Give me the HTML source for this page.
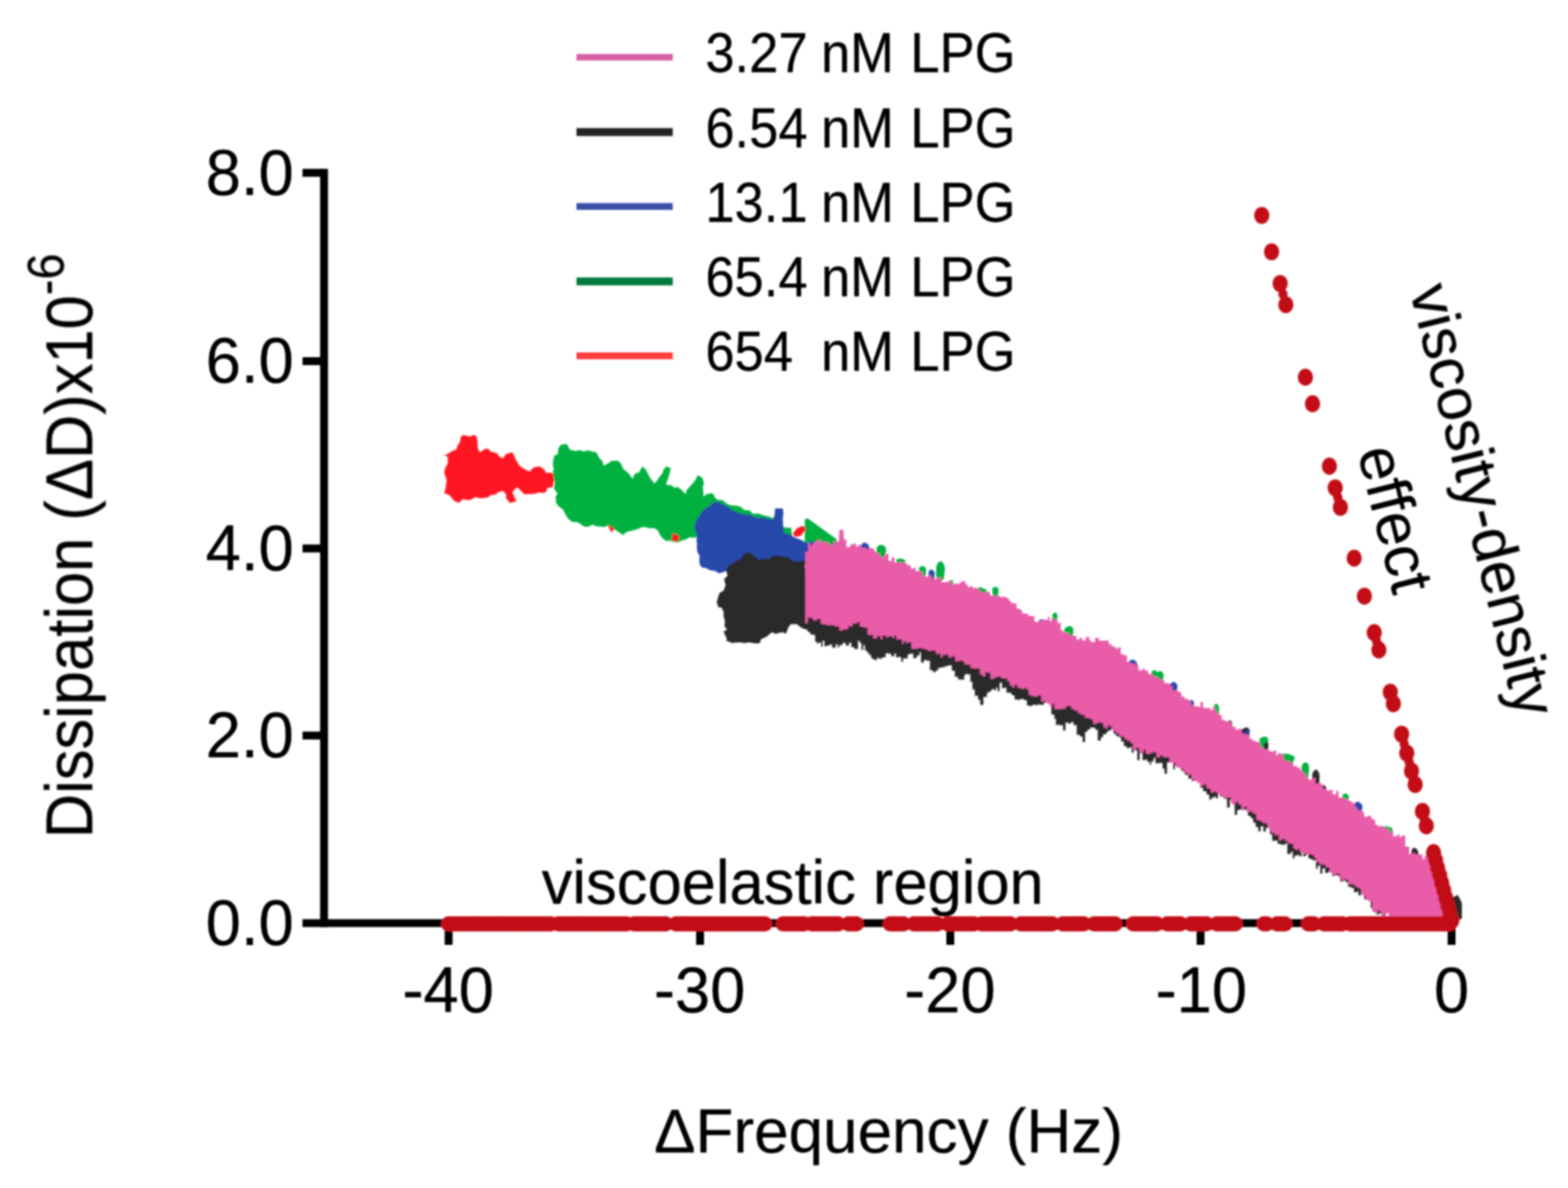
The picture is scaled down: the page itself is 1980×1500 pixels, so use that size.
<!DOCTYPE html>
<html lang="en">
<head>
<meta charset="utf-8">
<title>Dissipation vs Frequency</title>
<style>
html,body{margin:0;padding:0;background:#fff;}
body{width:1980px;height:1500px;overflow:hidden;}
svg{display:block;}
text{font-family:"Liberation Sans", sans-serif;fill:#000;stroke:#000;stroke-width:0.35px;}
</style>
</head>
<body>
<svg width="1980" height="1500" viewBox="0 0 1980 1500">
<defs><filter id="soft" x="0" y="0" width="1980" height="1500" filterUnits="userSpaceOnUse"><feGaussianBlur stdDeviation="1.3"/></filter></defs>
<rect width="1980" height="1500" fill="#fff"/>
<g filter="url(#soft)">
<g id="axes">
<rect x="404.2" y="213.2" width="10" height="957.3" fill="#000"/>
<rect x="382" y="1160.6" width="1456" height="9.9" fill="#000"/>
<rect x="382" y="213.2" width="26" height="10" fill="#000"/>
<rect x="382" y="451" width="26" height="10" fill="#000"/>
<rect x="382" y="687.5" width="26" height="10" fill="#000"/>
<rect x="382" y="923.7" width="26" height="10" fill="#000"/>
<rect x="561.5" y="1165" width="10" height="28" fill="#000"/>
<rect x="879" y="1165" width="10" height="28" fill="#000"/>
<rect x="1195" y="1165" width="10" height="28" fill="#000"/>
<rect x="1511" y="1165" width="10" height="28" fill="#000"/>
<rect x="1828" y="1165" width="10" height="28" fill="#000"/>
</g>
<g id="legend">
<rect x="728" y="68.2" width="121.5" height="8.2" fill="#d65fa5"/>
<rect x="728" y="161.7" width="121.5" height="10" fill="#222"/>
<rect x="728" y="256.4" width="121.5" height="8.6" fill="#3a4fa8"/>
<rect x="728" y="350.3" width="121.5" height="10" fill="#007a3d"/>
<rect x="728" y="445.0" width="121.5" height="8.6" fill="#ff3b3b"/>
</g>
<g id="series">
<polygon points="561.0,574.0 564.2,573.7 572.3,568.8 576.0,568.0 578.0,562.3 580.7,558.4 582.0,551.5 585.1,549.2 593.6,551.2 598.3,549.1 602.0,551.5 603.1,559.1 603.4,566.6 606.0,571.0 613.4,566.6 617.0,566.7 619.2,569.9 628.1,572.2 629.1,575.4 635.0,578.8 638.7,573.6 647.0,571.0 649.7,576.6 651.7,581.0 656.0,588.0 660.9,591.6 668.5,595.5 674.2,590.0 682.0,589.0 687.5,593.3 689.7,597.0 696.5,597.0 702.0,600.0 699.0,609.0 698.3,614.7 691.0,616.2 689.7,621.0 685.2,622.6 680.7,621.8 674.7,623.6 666.6,623.8 662.0,624.0 659.3,621.2 653.0,615.0 647.0,621.0 649.5,627.4 652.0,633.0 644.0,635.0 638.8,628.7 639.4,624.4 635.0,619.7 628.6,621.8 626.4,624.2 620.0,624.9 615.8,628.3 611.0,628.8 605.9,628.9 600.5,627.7 593.2,631.6 592.5,631.6 584.4,630.2 579.7,634.7 574.5,633.0 571.3,629.8 567.2,624.8 561.0,622.7 562.1,619.3 563.4,611.4 564.0,606.0 561.0,597.0 562.1,591.2 565.5,585.0 565.4,577.1" fill="#ff1520" />
<polygon points="700.0,575.8 704.5,572.9 705.0,566.0 708.3,561.5 715.5,560.6 720.0,568.0 727.0,569.5 731.7,568.2 737.0,570.0 742.4,568.5 747.2,570.0 753.0,571.0 757.0,578.8 761.0,582.5 762.0,588.0 768.0,584.9 772.4,581.8 780.6,581.8 784.1,585.5 787.4,592.6 791.6,595.7 794.0,597.9 798.8,604.5 802.1,597.7 807.0,596.4 811.0,589.0 814.8,591.9 818.7,598.9 821.0,603.7 824.2,607.6 826.0,610.6 828.4,608.4 834.0,600.5 836.1,598.6 837.8,593.5 841.0,589.0 847.0,591.0 845.5,598.1 844.0,603.0 841.9,608.4 841.0,612.0 847.8,612.8 851.3,615.8 856.0,615.0 861.7,619.4 865.5,624.0 867.3,618.4 872.4,612.9 876.4,608.6 879.4,604.0 880.6,600.0 886.7,603.0 889.0,609.9 887.4,615.1 888.3,621.4 888.0,627.0 893.2,623.6 900.0,622.7 903.1,628.8 906.0,631.0 912.2,631.5 918.7,636.7 923.0,638.0 930.5,638.6 935.4,640.1 940.0,644.0 946.7,644.5 950.8,648.7 958.0,648.5 963.3,650.6 972.0,652.5 978.9,655.2 981.4,661.8 988.0,664.0 990.0,666.0 999.0,666.5 999.7,672.7 1001.0,677.0 1002.6,680.7 1006.9,686.4 1012.0,690.0 1006.2,695.3 1001.9,697.7 1000.0,700.0 992.9,698.9 990.0,700.0 986.3,697.5 978.4,698.9 974.2,695.1 971.7,694.6 962.4,694.5 959.9,695.3 952.5,692.5 947.1,692.1 945.2,692.4 940.7,691.5 935.4,690.3 928.6,687.2 924.3,686.7 916.7,686.3 915.0,683.9 908.6,684.1 903.2,682.1 900.1,681.6 893.4,681.3 885.7,681.0 881.1,677.8 877.6,678.8 870.3,678.4 865.4,681.5 862.0,682.0 856.8,684.4 853.4,684.7 845.1,682.5 841.0,683.0 836.2,679.3 834.0,676.2 830.7,669.7 826.0,666.7 820.4,667.1 813.3,665.3 809.8,666.0 805.0,668.0 799.9,669.5 791.0,671.8 786.7,675.8 781.0,671.5 777.7,669.5 772.2,667.3 768.5,663.6 762.2,665.6 760.4,665.1 753.0,664.4 748.5,662.6 742.7,664.9 738.0,665.0 731.3,660.6 728.8,659.2 722.3,659.0 717.0,654.5 713.5,648.4 711.1,643.6 705.0,639.0 702.1,634.3 701.6,627.1 704.0,623.3 699.5,616.8 700.4,611.4 700.0,606.0 698.7,601.4 698.1,595.0 699.4,592.8 698.1,587.0 698.6,581.1" fill="#00b140" />
<polygon points="1016.2,657.0 1017.5,654.6 1021.0,655.2 1057.0,681.2 1054.0,688.0 1040.0,696.0 1016.2,694.0" fill="#00b140" />
<polygon points="850.0,673.0 858.0,677.0 856.0,684.0 848.0,682.0" fill="#ff1520" />
<polygon points="767.0,662.0 776.0,668.0 772.0,672.0" fill="#ff1520" />
<polygon points="877.6,660.6 879.8,655.7 883.3,650.9 886.7,645.5 891.6,641.0 894.2,640.3 899.5,635.3 904.8,633.0 910.9,635.4 915.0,637.9 918.9,639.4 923.0,643.0 929.1,646.3 934.4,648.1 940.0,649.5 946.5,649.6 952.8,652.8 958.0,654.0 963.4,653.2 971.2,655.2 976.0,656.0 978.1,650.2 978.8,642.0 988.5,642.0 989.3,649.1 988.4,654.5 988.7,660.6 989.0,665.0 990.0,673.0 996.5,674.0 1000.6,677.6 1004.8,679.1 1012.9,682.2 1016.8,684.8 1020.0,686.0 1021.2,690.6 1021.6,696.0 1021.9,701.9 1023.5,708.1 1024.0,712.0 1018.9,713.4 1013.8,713.6 1007.5,710.9 1002.5,713.5 997.0,712.2 990.0,712.0 985.5,711.7 980.6,713.5 973.7,712.5 970.3,716.1 962.6,716.2 958.4,714.7 952.8,717.4 949.5,715.7 943.4,716.3 938.6,717.9 933.9,720.6 927.4,721.3 921.6,719.0 917.0,721.0 908.0,724.0 903.0,720.7 896.4,720.1 892.4,717.4 886.7,716.7 883.7,713.0 883.1,708.3 883.4,701.5 880.6,697.0 880.0,691.9 880.2,686.9 879.5,681.8 880.3,676.2 878.2,671.7 877.2,665.2" fill="#2648aa" />
<polygon points="1001.5,673.0 1007.0,666.5 1015.0,663.8 1017.6,669.0 1011.0,676.5 1003.5,678.0" fill="#ff1520" />
<polygon points="944.0,697.0 947.6,698.5 953.5,702.3 959.0,707.6 962.1,705.2 971.8,705.4 975.0,702.0 982.3,701.2 987.0,702.2 992.7,704.0 995.9,703.2 1000.9,708.6 1009.0,709.2 1013.7,707.2 1017.0,710.0 1016.3,715.8 1018.8,722.1 1019.9,723.2 1018.8,731.4 1018.6,733.9 1018.7,738.6 1021.4,747.8 1019.7,750.0 1021.9,756.5 1022.1,763.1 1020.5,765.9 1021.3,771.1 1019.3,775.6 1023.0,779.4 1019.3,787.5 1022.0,792.0 1020.0,795.0 1013.6,793.4 1009.3,790.7 1006.7,788.2 998.8,788.0 995.3,792.5 992.7,800.0 987.3,798.3 979.8,800.3 974.5,798.5 969.8,802.2 969.1,803.2 960.9,807.2 959.4,812.0 954.6,812.6 945.8,811.1 941.0,812.0 933.3,811.0 926.6,811.5 925.1,812.1 917.0,809.0 917.8,806.2 913.6,797.5 918.1,794.9 914.8,790.6 915.5,784.7 913.4,776.3 914.0,772.7 910.7,766.8 907.4,767.0 905.0,760.6 907.1,753.0 908.6,748.8 914.0,745.5 916.2,738.7 914.4,731.2 918.8,726.7 917.0,721.0 919.3,715.3 922.4,712.4 929.5,708.9 930.0,707.2 935.0,706.4 938.2,700.6" fill="#2b2b2b" />
<polygon points="1017.0,775.0 1020.0,766.4 1020.0,766.4 1023.1,767.0 1023.1,767.0 1025.4,767.5 1025.4,767.5 1029.3,768.3 1029.3,768.3 1031.4,768.7 1031.4,768.7 1033.3,769.1 1033.3,769.1 1036.8,769.8 1036.8,769.8 1038.7,770.2 1038.7,770.2 1041.1,770.7 1041.1,770.7 1044.1,771.6 1044.1,771.6 1047.7,773.0 1047.7,773.0 1050.7,774.2 1050.7,774.2 1055.2,776.0 1055.2,776.0 1057.8,777.1 1057.8,777.1 1059.8,777.9 1059.8,777.9 1063.9,779.6 1063.9,779.6 1068.0,778.9 1068.0,778.9 1072.2,777.2 1072.2,777.2 1075.1,776.1 1075.1,776.1 1079.0,774.7 1079.0,774.7 1083.4,773.0 1083.4,773.0 1085.5,774.6 1085.5,774.6 1087.8,776.4 1087.8,776.4 1090.1,778.3 1090.1,778.3 1092.2,779.9 1092.2,779.9 1094.7,781.9 1094.7,781.9 1097.4,783.9 1097.4,783.9 1100.2,786.2 1100.2,786.2 1102.3,787.8 1102.3,787.8 1104.8,789.0 1104.8,789.0 1107.4,789.0 1107.4,789.0 1109.8,789.0 1109.8,789.0 1112.9,789.0 1112.9,789.0 1116.2,789.0 1116.2,789.0 1118.4,789.0 1118.4,789.0 1120.9,789.0 1120.9,789.0 1125.3,789.0 1125.3,789.0 1129.4,789.3 1129.4,789.3 1131.5,790.4 1131.5,790.4 1134.0,791.6 1134.0,791.6 1138.0,793.6 1138.0,793.6 1140.3,794.8 1140.3,794.8 1143.6,796.4 1143.6,796.4 1146.1,797.7 1146.1,797.7 1148.0,798.7 1148.0,798.7 1149.9,799.6 1149.9,799.6 1153.3,801.3 1153.3,801.3 1157.5,803.1 1157.5,803.1 1161.1,804.2 1161.1,804.2 1163.0,804.8 1163.0,804.8 1166.7,805.9 1166.7,805.9 1169.8,806.9 1169.8,806.9 1174.3,808.2 1174.3,808.2 1178.1,809.4 1178.1,809.4 1181.8,810.4 1181.8,810.4 1184.6,811.2 1184.6,811.2 1188.7,812.4 1188.7,812.4 1192.9,813.6 1192.9,813.6 1195.7,814.5 1195.7,814.5 1197.7,815.0 1197.7,815.0 1201.9,816.3 1201.9,816.3 1205.7,817.4 1205.7,817.4 1209.7,818.7 1209.7,818.7 1211.6,819.2 1211.6,819.2 1214.0,820.0 1214.0,820.0 1217.5,821.0 1217.5,821.0 1219.3,821.6 1219.3,821.6 1221.7,822.3 1221.7,822.3 1225.3,823.9 1225.3,823.9 1227.9,826.0 1227.9,826.0 1230.9,828.2 1230.9,828.2 1235.1,831.3 1235.1,831.3 1237.7,833.3 1237.7,833.3 1241.8,835.5 1241.8,835.5 1246.2,836.6 1246.2,836.6 1249.2,837.4 1249.2,837.4 1252.1,838.2 1252.1,838.2 1254.7,838.9 1254.7,838.9 1257.8,839.7 1257.8,839.7 1259.7,840.2 1259.7,840.2 1262.3,840.9 1262.3,840.9 1265.3,842.3 1265.3,842.3 1267.8,843.5 1267.8,843.5 1270.8,845.0 1270.8,845.0 1274.8,847.0 1274.8,847.0 1277.1,848.2 1277.1,848.2 1278.9,849.1 1278.9,849.1 1281.2,850.3 1281.2,850.3 1284.9,852.1 1284.9,852.1 1288.7,854.0 1288.7,854.0 1293.0,856.1 1293.0,856.1 1296.7,858.0 1296.7,858.0 1300.2,859.7 1300.2,859.7 1303.6,861.4 1303.6,861.4 1307.9,863.6 1307.9,863.6 1310.3,865.0 1310.3,865.0 1313.8,867.1 1313.8,867.1 1318.0,869.6 1318.0,869.6 1321.3,871.6 1321.3,871.6 1325.5,874.1 1325.5,874.1 1327.6,875.4 1327.6,875.4 1331.4,877.3 1331.4,877.3 1333.4,877.5 1333.4,877.5 1336.1,877.8 1336.1,877.8 1338.3,878.0 1338.3,878.0 1342.4,878.4 1342.4,878.4 1345.5,878.7 1345.5,878.7 1348.7,879.0 1348.7,879.0 1352.3,879.4 1352.3,879.4 1355.6,880.8 1355.6,880.8 1359.6,883.3 1359.6,883.3 1363.7,885.7 1363.7,885.7 1367.1,887.7 1367.1,887.7 1370.2,889.6 1370.2,889.6 1373.4,891.5 1373.4,891.5 1376.8,893.3 1376.8,893.3 1378.7,894.1 1378.7,894.1 1383.1,895.8 1383.1,895.8 1386.2,897.1 1386.2,897.1 1390.2,898.7 1390.2,898.7 1392.9,899.7 1392.9,899.7 1397.2,901.4 1397.2,901.4 1399.0,902.3 1399.0,902.3 1402.7,904.5 1402.7,904.5 1406.1,906.6 1406.1,906.6 1408.3,907.8 1408.3,907.8 1410.6,909.3 1410.6,909.3 1413.4,910.9 1413.4,910.9 1415.7,912.3 1415.7,912.3 1419.2,914.4 1419.2,914.4 1422.6,917.3 1422.6,917.3 1426.4,921.7 1426.4,921.7 1429.1,924.8 1429.1,924.8 1431.5,927.6 1431.5,927.6 1433.6,930.1 1433.6,930.1 1436.1,931.9 1436.1,931.9 1439.1,932.7 1439.1,932.7 1442.7,933.6 1442.7,933.6 1446.4,934.5 1446.4,934.5 1448.5,935.1 1448.5,935.1 1451.6,935.9 1451.6,935.9 1453.6,936.4 1453.6,936.4 1456.8,937.2 1456.8,937.2 1459.1,937.8 1459.1,937.8 1463.6,939.6 1463.6,939.6 1468.0,941.5 1468.0,941.5 1470.6,942.7 1470.6,942.7 1473.6,944.0 1473.6,944.0 1477.7,945.8 1477.7,945.8 1481.5,947.5 1481.5,947.5 1483.7,948.8 1483.7,948.8 1487.7,952.0 1487.7,952.0 1491.2,954.8 1491.2,954.8 1494.4,957.3 1494.4,957.3 1496.8,959.3 1496.8,959.3 1500.7,962.4 1500.7,962.4 1505.0,965.7 1505.0,965.7 1508.8,968.5 1508.8,968.5 1512.6,971.1 1512.6,971.1 1515.7,973.3 1515.7,973.3 1519.2,975.8 1519.2,975.8 1523.5,978.9 1523.5,978.9 1527.1,981.4 1527.1,981.4 1530.0,983.0 1530.0,983.0 1533.7,984.9 1533.7,984.9 1535.5,985.8 1535.5,985.8 1538.0,987.1 1538.0,987.1 1540.8,988.5 1540.8,988.5 1545.1,990.6 1545.1,990.6 1549.5,992.8 1549.5,992.8 1553.0,994.8 1553.0,994.8 1556.9,997.1 1556.9,997.1 1559.1,998.5 1559.1,998.5 1562.2,1000.4 1562.2,1000.4 1565.2,1002.1 1565.2,1002.1 1568.0,1003.8 1568.0,1003.8 1571.3,1005.8 1571.3,1005.8 1573.9,1007.4 1573.9,1007.4 1575.8,1009.0 1575.8,1009.0 1578.6,1011.2 1578.6,1011.2 1580.6,1012.8 1580.6,1012.8 1582.6,1014.3 1582.6,1014.3 1585.7,1016.8 1585.7,1016.8 1588.9,1019.3 1588.9,1019.3 1591.9,1021.8 1591.9,1021.8 1595.4,1024.5 1595.4,1024.5 1598.4,1027.2 1598.4,1027.2 1600.5,1029.1 1600.5,1029.1 1603.6,1031.9 1603.6,1031.9 1606.5,1034.6 1606.5,1034.6 1611.0,1038.7 1611.0,1038.7 1613.4,1040.9 1613.4,1040.9 1617.3,1044.5 1617.3,1044.5 1619.9,1046.4 1619.9,1046.4 1623.3,1048.4 1623.3,1048.4 1625.6,1049.7 1625.6,1049.7 1629.9,1052.2 1629.9,1052.2 1632.4,1053.7 1632.4,1053.7 1634.5,1055.0 1634.5,1055.0 1638.1,1057.1 1638.1,1057.1 1640.9,1058.8 1640.9,1058.8 1643.6,1060.2 1643.6,1060.2 1645.6,1061.2 1645.6,1061.2 1649.1,1063.0 1649.1,1063.0 1652.1,1064.5 1652.1,1064.5 1654.9,1065.9 1654.9,1065.9 1657.5,1067.2 1657.5,1067.2 1661.8,1069.4 1661.8,1069.4 1663.9,1070.4 1663.9,1070.4 1667.2,1073.2 1667.2,1073.2 1669.8,1075.4 1669.8,1075.4 1673.4,1078.4 1673.4,1078.4 1677.2,1081.6 1677.2,1081.6 1679.3,1083.4 1679.3,1083.4 1682.1,1085.5 1682.1,1085.5 1685.5,1087.9 1685.5,1087.9 1689.7,1090.9 1689.7,1090.9 1692.4,1092.7 1692.4,1092.7 1696.7,1095.8 1696.7,1095.8 1699.5,1097.7 1699.5,1097.7 1702.3,1099.7 1702.3,1099.7 1705.7,1102.1 1705.7,1102.1 1709.7,1105.0 1709.7,1105.0 1713.6,1107.8 1713.6,1107.8 1715.4,1109.1 1715.4,1109.1 1718.8,1111.5 1718.8,1111.5 1722.7,1114.4 1722.7,1114.4 1726.7,1119.2 1726.7,1119.2 1730.9,1127.3 1730.9,1127.3 1733.1,1131.4 1733.1,1131.4 1735.5,1134.5 1735.5,1134.5 1738.7,1135.9 1738.7,1135.9 1741.5,1137.2 1741.5,1137.2 1744.6,1138.6 1744.6,1138.6 1748.3,1140.2 1748.3,1140.2 1750.0,1141.0 1750.0,1156.8 1748.3,1156.8 1748.3,1157.4 1744.6,1157.4 1744.6,1153.1 1741.5,1153.1 1741.5,1154.9 1738.7,1154.9 1738.7,1152.1 1735.5,1152.1 1735.5,1146.8 1733.1,1146.8 1733.1,1146.4 1730.9,1146.4 1730.9,1135.8 1726.7,1135.8 1726.7,1135.8 1722.7,1135.8 1722.7,1126.2 1718.8,1126.2 1718.8,1130.5 1715.4,1130.5 1715.4,1125.6 1713.6,1125.6 1713.6,1126.4 1709.7,1126.4 1709.7,1120.9 1705.7,1120.9 1705.7,1119.5 1702.3,1119.5 1702.3,1113.9 1699.5,1113.9 1699.5,1111.7 1696.7,1111.7 1696.7,1113.1 1692.4,1113.1 1692.4,1106.5 1689.7,1106.5 1689.7,1105.0 1685.5,1105.0 1685.5,1106.0 1682.1,1106.0 1682.1,1099.4 1679.3,1099.4 1679.3,1100.5 1677.2,1100.5 1677.2,1102.2 1673.4,1102.2 1673.4,1096.6 1669.8,1096.6 1669.8,1103.1 1667.2,1103.1 1667.2,1092.9 1663.9,1092.9 1663.9,1097.1 1661.8,1097.1 1661.8,1086.3 1657.5,1086.3 1657.5,1084.8 1654.9,1084.8 1654.9,1083.7 1652.1,1083.7 1652.1,1079.0 1649.1,1079.0 1649.1,1081.0 1645.6,1081.0 1645.6,1076.5 1643.6,1076.5 1643.6,1081.2 1640.9,1081.2 1640.9,1079.5 1638.1,1079.5 1638.1,1080.2 1634.5,1080.2 1634.5,1083.9 1632.4,1083.9 1632.4,1075.4 1629.9,1075.4 1629.9,1078.2 1625.6,1078.2 1625.6,1064.8 1623.3,1064.8 1623.3,1066.6 1619.9,1066.6 1619.9,1066.4 1617.3,1066.4 1617.3,1065.5 1613.4,1065.5 1613.4,1061.3 1611.0,1061.3 1611.0,1061.4 1606.5,1061.4 1606.5,1053.4 1603.6,1053.4 1603.6,1044.4 1600.5,1044.4 1600.5,1045.6 1598.4,1045.6 1598.4,1050.0 1595.4,1050.0 1595.4,1043.2 1591.9,1043.2 1591.9,1049.4 1588.9,1049.4 1588.9,1044.2 1585.7,1044.2 1585.7,1038.8 1582.6,1038.8 1582.6,1033.7 1580.6,1033.7 1580.6,1031.4 1578.6,1031.4 1578.6,1029.9 1575.8,1029.9 1575.8,1023.8 1573.9,1023.8 1573.9,1022.0 1571.3,1022.0 1571.3,1023.0 1568.0,1023.0 1568.0,1022.0 1565.2,1022.0 1565.2,1022.8 1562.2,1022.8 1562.2,1028.8 1559.1,1028.8 1559.1,1016.4 1556.9,1016.4 1556.9,1010.0 1553.0,1010.0 1553.0,1019.4 1549.5,1019.4 1549.5,1008.5 1545.1,1008.5 1545.1,1005.4 1540.8,1005.4 1540.8,1000.3 1538.0,1000.3 1538.0,1007.9 1535.5,1007.9 1535.5,1005.2 1533.7,1005.2 1533.7,1006.9 1530.0,1006.9 1530.0,1009.5 1527.1,1009.5 1527.1,1003.2 1523.5,1003.2 1523.5,998.9 1519.2,998.9 1519.2,994.6 1515.7,994.6 1515.7,987.2 1512.6,987.2 1512.6,984.6 1508.8,984.6 1508.8,986.1 1505.0,986.1 1505.0,983.3 1500.7,983.3 1500.7,978.8 1496.8,978.8 1496.8,975.7 1494.4,975.7 1494.4,972.8 1491.2,972.8 1491.2,965.1 1487.7,965.1 1487.7,966.0 1483.7,966.0 1483.7,971.2 1481.5,971.2 1481.5,961.8 1477.7,961.8 1477.7,962.6 1473.6,962.6 1473.6,976.9 1470.6,976.9 1470.6,970.4 1468.0,970.4 1468.0,963.3 1463.6,963.3 1463.6,963.8 1459.1,963.8 1459.1,956.7 1456.8,956.7 1456.8,961.3 1453.6,961.3 1453.6,965.5 1451.6,965.5 1451.6,961.8 1448.5,961.8 1448.5,958.7 1446.4,958.7 1446.4,959.7 1442.7,959.7 1442.7,950.9 1439.1,950.9 1439.1,959.8 1436.1,959.8 1436.1,947.4 1433.6,947.4 1433.6,946.9 1431.5,946.9 1431.5,950.5 1429.1,950.5 1429.1,943.6 1426.4,943.6 1426.4,944.6 1422.6,944.6 1422.6,942.0 1419.2,942.0 1419.2,936.2 1415.7,936.2 1415.7,931.0 1413.4,931.0 1413.4,929.9 1410.6,929.9 1410.6,928.2 1408.3,928.2 1408.3,925.9 1406.1,925.9 1406.1,920.2 1402.7,920.2 1402.7,922.5 1399.0,922.5 1399.0,924.3 1397.2,924.3 1397.2,926.9 1392.9,926.9 1392.9,930.8 1390.2,930.8 1390.2,935.0 1386.2,935.0 1386.2,921.5 1383.1,921.5 1383.1,918.8 1378.7,918.8 1378.7,918.2 1376.8,918.2 1376.8,920.9 1373.4,920.9 1373.4,924.0 1370.2,924.0 1370.2,937.0 1367.1,937.0 1367.1,929.9 1363.7,929.9 1363.7,927.7 1359.6,927.7 1359.6,915.5 1355.6,915.5 1355.6,911.7 1352.3,911.7 1352.3,913.5 1348.7,913.5 1348.7,912.2 1345.5,912.2 1345.5,922.2 1342.4,922.2 1342.4,915.8 1338.3,915.8 1338.3,914.9 1336.1,914.9 1336.1,915.5 1333.4,915.5 1333.4,907.5 1331.4,907.5 1331.4,902.3 1327.6,902.3 1327.6,884.5 1325.5,884.5 1325.5,886.5 1321.3,886.5 1321.3,887.3 1318.0,887.3 1318.0,889.9 1313.8,889.9 1313.8,889.4 1310.3,889.4 1310.3,890.4 1307.9,890.4 1307.9,889.7 1303.6,889.7 1303.6,891.6 1300.2,891.6 1300.2,890.7 1296.7,890.7 1296.7,884.0 1293.0,884.0 1293.0,882.5 1288.7,882.5 1288.7,883.4 1284.9,883.4 1284.9,883.2 1281.2,883.2 1281.2,878.0 1278.9,878.0 1278.9,877.1 1277.1,877.1 1277.1,874.8 1274.8,874.8 1274.8,874.6 1270.8,874.6 1270.8,868.3 1267.8,868.3 1267.8,869.0 1265.3,869.0 1265.3,862.1 1262.3,862.1 1262.3,872.7 1259.7,872.7 1259.7,867.9 1257.8,867.9 1257.8,871.3 1254.7,871.3 1254.7,870.0 1252.1,870.0 1252.1,872.7 1249.2,872.7 1249.2,874.6 1246.2,874.6 1246.2,880.1 1241.8,880.1 1241.8,890.1 1237.7,890.1 1237.7,883.6 1235.1,883.6 1235.1,878.5 1230.9,878.5 1230.9,870.5 1227.9,870.5 1227.9,860.8 1225.3,860.8 1225.3,851.4 1221.7,851.4 1221.7,850.7 1219.3,850.7 1219.3,852.6 1217.5,852.6 1217.5,858.2 1214.0,858.2 1214.0,857.8 1211.6,857.8 1211.6,858.1 1209.7,858.1 1209.7,854.6 1205.7,854.6 1205.7,846.7 1201.9,846.7 1201.9,840.1 1197.7,840.1 1197.7,840.7 1195.7,840.7 1195.7,841.3 1192.9,841.3 1192.9,842.6 1188.7,842.6 1188.7,843.2 1184.6,843.2 1184.6,846.5 1181.8,846.5 1181.8,848.6 1178.1,848.6 1178.1,846.3 1174.3,846.3 1174.3,834.2 1169.8,834.2 1169.8,833.3 1166.7,833.3 1166.7,836.6 1163.0,836.6 1163.0,823.5 1161.1,823.5 1161.1,827.8 1157.5,827.8 1157.5,831.0 1153.3,831.0 1153.3,825.2 1149.9,825.2 1149.9,825.7 1148.0,825.7 1148.0,826.6 1146.1,826.6 1146.1,831.4 1143.6,831.4 1143.6,831.2 1140.3,831.2 1140.3,835.4 1138.0,835.4 1138.0,829.5 1134.0,829.5 1134.0,829.9 1131.5,829.9 1131.5,824.9 1129.4,824.9 1129.4,828.6 1125.3,828.6 1125.3,825.2 1120.9,825.2 1120.9,824.7 1118.4,824.7 1118.4,829.7 1116.2,829.7 1116.2,830.2 1112.9,830.2 1112.9,831.9 1109.8,831.9 1109.8,830.2 1107.4,830.2 1107.4,833.5 1104.8,833.5 1104.8,832.6 1102.3,832.6 1102.3,831.3 1100.2,831.3 1100.2,827.2 1097.4,827.2 1097.4,824.0 1094.7,824.0 1094.7,821.3 1092.2,821.3 1092.2,814.4 1090.1,814.4 1090.1,820.4 1087.8,820.4 1087.8,811.8 1085.5,811.8 1085.5,808.7 1083.4,808.7 1083.4,819.5 1079.0,819.5 1079.0,817.3 1075.1,817.3 1075.1,811.4 1072.2,811.4 1072.2,815.1 1068.0,815.1 1068.0,811.8 1063.9,811.8 1063.9,814.6 1059.8,814.6 1059.8,817.3 1057.8,817.3 1057.8,813.5 1055.2,813.5 1055.2,817.8 1050.7,817.8 1050.7,813.8 1047.7,813.8 1047.7,814.9 1044.1,814.9 1044.1,816.0 1041.1,816.0 1041.1,809.0 1038.7,809.0 1038.7,816.4 1036.8,816.4 1036.8,811.2 1033.3,811.2 1033.3,812.6 1031.4,812.6 1031.4,810.1 1029.3,810.1 1029.3,801.6 1025.4,801.6 1025.4,801.1 1023.1,801.1 1023.1,798.1 1020.0,798.1 1020.0,795.1 1017.0,795.1" fill="#2b2b2b" />
<polygon points="1832.0,1134.0 1841.0,1130.0 1846.0,1140.0 1846.0,1160.0 1834.0,1164.0" fill="#2b2b2b" />
<polygon points="1028.6,686.0 1027.7,695.0 1025.3,696.2 1022.6,695.4 1020.6,694.1 1020.3,684.9 1022.3,683.1 1025.1,683.3 1027.7,684.0" fill="#2648aa" />
<polygon points="1097.7,690.8 1096.3,701.7 1093.5,704.5 1090.0,703.0 1087.9,699.8 1087.2,688.5 1089.9,685.4 1093.3,685.2 1096.1,687.2" fill="#2648aa" />
<polygon points="1119.0,695.0 1117.0,705.9 1114.1,709.1 1109.8,708.5 1107.5,704.3 1106.8,692.4 1109.6,688.2 1114.1,688.0 1117.8,690.3" fill="#00b140" />
<polygon points="1143.1,709.0 1141.8,718.2 1139.0,720.5 1135.0,719.2 1132.6,717.3 1131.5,707.5 1134.6,705.3 1138.7,705.5 1142.2,706.6" fill="#00b140" />
<polygon points="1169.6,719.0 1168.6,729.0 1165.7,730.2 1162.5,730.4 1160.6,727.6 1160.5,717.3 1162.7,715.1 1165.8,714.7 1168.3,716.2" fill="#00b140" />
<polygon points="1180.4,723.6 1179.3,734.1 1176.7,735.6 1174.2,734.4 1172.6,732.1 1172.7,722.1 1174.1,719.5 1176.6,719.3 1178.9,720.6" fill="#2648aa" />
<polygon points="1193.2,718.0 1191.9,730.3 1188.8,734.3 1184.7,732.7 1182.1,728.1 1182.3,715.1 1184.7,710.1 1188.8,708.4 1192.0,712.5" fill="#00b140" />
<polygon points="1203.6,735.0 1203.3,743.9 1201.5,744.8 1199.4,744.8 1198.5,742.9 1197.9,733.9 1199.7,732.8 1201.5,732.0 1203.3,733.1" fill="#00b140" />
<polygon points="1241.3,745.0 1240.9,754.9 1238.2,756.2 1235.7,755.1 1233.7,753.4 1233.6,743.6 1235.8,742.0 1238.1,741.5 1240.7,742.4" fill="#00b140" />
<polygon points="1246.3,746.0 1245.0,754.9 1242.7,755.9 1240.0,755.6 1238.5,754.0 1237.8,744.9 1239.7,743.0 1242.7,743.1 1244.6,744.3" fill="#00b140" />
<polygon points="1260.9,744.0 1260.3,753.1 1257.7,753.8 1255.2,753.3 1253.6,751.9 1253.0,742.9 1254.9,741.3 1257.7,741.2 1260.2,742.0" fill="#00b140" />
<polygon points="1320.3,784.6 1319.5,793.4 1316.8,794.3 1314.0,793.7 1311.9,792.5 1311.8,783.6 1313.8,782.2 1316.7,782.0 1319.1,783.0" fill="#2648aa" />
<polygon points="1335.3,777.8 1334.8,788.0 1332.4,789.4 1329.9,789.0 1328.8,786.2 1328.9,776.4 1330.2,774.2 1332.4,773.3 1334.5,774.8" fill="#00b140" />
<polygon points="1355.5,796.0 1354.2,805.9 1351.2,808.6 1347.4,806.8 1343.6,804.9 1343.9,794.2 1346.9,791.6 1351.2,790.3 1354.8,792.6" fill="#00b140" />
<polygon points="1410.3,824.0 1410.3,836.8 1408.2,838.7 1406.0,838.8 1404.6,834.0 1405.2,821.6 1406.4,818.0 1408.1,817.3 1410.2,818.4" fill="#00b140" />
<polygon points="1436.5,840.0 1434.2,850.8 1430.9,852.7 1427.1,852.4 1423.9,849.4 1424.0,837.6 1426.7,833.8 1431.2,832.7 1434.9,835.5" fill="#2648aa" />
<polygon points="1461.9,851.4 1460.1,861.7 1458.1,863.4 1455.3,864.2 1453.6,860.5 1453.9,849.5 1455.7,846.8 1458.2,845.8 1460.4,847.7" fill="#00b140" />
<polygon points="1469.5,851.0 1468.3,860.5 1465.3,861.6 1462.3,861.0 1460.2,859.2 1460.3,849.8 1462.3,848.0 1465.3,847.2 1467.9,848.7" fill="#00b140" />
<polygon points="1487.0,865.7 1485.4,876.0 1482.4,877.6 1478.9,877.2 1477.2,874.3 1477.5,864.2 1479.3,861.9 1482.3,861.0 1485.2,862.6" fill="#2648aa" />
<polygon points="1507.7,887.0 1506.9,895.8 1504.8,897.3 1502.3,896.2 1500.3,895.0 1500.4,886.0 1502.1,884.6 1504.7,883.8 1506.8,885.2" fill="#2648aa" />
<polygon points="1539.5,896.0 1538.8,907.0 1536.8,910.9 1534.1,908.8 1532.7,905.1 1531.7,893.3 1533.9,889.7 1536.8,888.2 1538.9,891.7" fill="#00b140" />
<polygon points="1555.7,912.0 1554.7,920.4 1553.4,921.3 1551.6,921.4 1550.6,919.9 1550.4,911.1 1551.8,909.9 1553.5,909.3 1554.7,910.6" fill="#2b2b2b" />
<polygon points="1578.2,923.5 1576.5,933.4 1573.8,935.0 1570.2,935.3 1568.4,932.2 1567.9,921.6 1570.7,919.5 1573.9,918.2 1577.3,919.9" fill="#2b2b2b" />
<polygon points="1578.1,925.0 1577.1,933.8 1575.5,935.1 1573.3,934.9 1571.9,933.1 1572.2,924.0 1573.5,922.5 1575.5,922.4 1577.5,922.9" fill="#2648aa" />
<polygon points="1601.4,934.8 1600.2,944.7 1596.9,946.0 1593.3,945.7 1590.6,943.5 1590.4,933.1 1593.3,930.9 1597.0,930.0 1601.0,931.3" fill="#00b140" />
<polygon points="1601.6,941.0 1601.0,950.3 1599.5,952.0 1597.3,951.9 1595.8,949.5 1596.1,939.6 1597.7,938.0 1599.6,936.6 1601.6,938.0" fill="#2b2b2b" />
<polygon points="1635.3,956.0 1631.5,965.9 1624.8,967.3 1617.4,967.0 1611.8,964.7 1611.1,954.2 1617.5,952.1 1624.9,951.6 1630.9,953.3" fill="#00b140" />
<polygon points="1653.1,970.0 1651.9,982.2 1648.8,984.4 1645.5,983.8 1642.7,980.1 1643.7,967.5 1645.7,963.6 1648.8,962.6 1652.2,964.3" fill="#00b140" />
<polygon points="1666.3,979.0 1665.8,990.9 1662.6,993.8 1658.8,992.7 1656.5,988.6 1657.3,976.8 1659.1,973.0 1662.6,971.4 1665.1,974.8" fill="#2b2b2b" />
<polygon points="1674.8,995.0 1674.1,1004.9 1671.5,1006.5 1668.8,1005.3 1667.4,1003.2 1667.5,993.8 1668.8,991.7 1671.4,991.0 1673.6,992.6" fill="#2b2b2b" />
<polygon points="1703.4,1005.5 1702.2,1015.2 1699.7,1016.6 1696.8,1016.3 1695.4,1013.8 1695.1,1004.1 1697.1,1002.2 1699.7,1001.8 1701.7,1003.2" fill="#00b140" />
<polygon points="1720.5,1017.5 1719.1,1028.1 1714.9,1028.7 1710.8,1029.1 1709.1,1026.0 1708.5,1015.8 1711.2,1013.4 1715.2,1012.0 1718.5,1014.4" fill="#2648aa" />
<polygon points="1759.0,1048.5 1756.6,1058.6 1751.4,1060.1 1745.8,1059.5 1742.7,1057.0 1742.8,1047.0 1745.4,1044.1 1751.7,1043.2 1757.2,1045.1" fill="#00b140" />
<polygon points="1791.1,1076.8 1790.9,1088.2 1787.3,1089.0 1784.1,1088.9 1782.0,1085.7 1782.3,1074.9 1783.7,1070.9 1787.4,1070.5 1789.9,1073.4" fill="#2b2b2b" />
<polygon points="1807.1,1096.0 1806.8,1106.5 1804.2,1107.7 1801.6,1107.1 1800.0,1104.6 1799.9,1094.4 1801.4,1091.6 1804.2,1091.4 1806.6,1092.7" fill="#2b2b2b" />
<polygon points="1017.0,696.8 1020.5,696.8 1020.5,685.5 1023.0,685.5 1023.0,688.9 1025.8,688.9 1025.8,685.8 1029.7,685.8 1029.7,683.6 1032.2,683.6 1032.2,681.4 1037.0,681.4 1037.0,685.7 1039.3,685.7 1039.3,683.7 1042.6,683.7 1042.6,685.1 1047.4,685.1 1047.4,688.3 1052.5,688.3 1052.5,683.4 1055.8,683.4 1055.8,683.8 1059.7,683.8 1059.7,684.3 1061.9,684.3 1061.9,686.2 1065.2,686.2 1065.2,681.3 1068.7,681.3 1068.7,690.8 1073.7,690.8 1073.7,687.4 1076.8,687.4 1076.8,686.6 1080.9,686.6 1080.9,690.0 1084.1,690.0 1084.1,687.8 1087.7,687.8 1087.7,691.8 1091.0,691.8 1091.0,691.8 1094.4,691.8 1094.4,693.6 1096.7,693.6 1096.7,691.7 1100.9,691.7 1100.9,692.7 1104.0,692.7 1104.0,696.0 1106.7,696.0 1106.7,698.9 1111.6,698.9 1111.6,703.3 1114.2,703.3 1114.2,703.3 1116.8,703.3 1116.8,701.2 1118.9,701.2 1118.9,699.0 1122.0,699.0 1122.0,708.3 1125.9,708.3 1125.9,703.7 1129.5,703.7 1129.5,710.6 1133.9,710.6 1133.9,710.1 1136.7,710.1 1136.7,709.8 1140.6,709.8 1140.6,711.0 1145.4,711.0 1145.4,713.8 1150.1,713.8 1150.1,718.3 1153.7,718.3 1153.7,717.1 1156.4,717.1 1156.4,721.3 1160.6,721.3 1160.6,721.6 1165.3,721.6 1165.3,727.0 1168.7,727.0 1168.7,728.3 1172.6,728.3 1172.6,727.0 1177.0,727.0 1177.0,731.4 1181.8,731.4 1181.8,729.9 1184.9,729.9 1184.9,728.7 1188.7,728.7 1188.7,734.9 1193.5,734.9 1193.5,734.7 1198.3,734.7 1198.3,733.1 1201.5,733.1 1201.5,738.8 1204.5,738.8 1204.5,736.8 1208.2,736.8 1208.2,737.3 1211.9,737.3 1211.9,735.4 1214.7,735.4 1214.7,733.7 1218.8,733.7 1218.8,737.7 1221.8,737.7 1221.8,741.2 1225.8,741.2 1225.8,740.1 1228.0,740.1 1228.0,742.6 1230.6,742.6 1230.6,741.9 1233.3,741.9 1233.3,743.5 1235.4,743.5 1235.4,745.2 1238.1,745.2 1238.1,747.5 1242.9,747.5 1242.9,748.0 1245.4,748.0 1245.4,747.3 1250.1,747.3 1250.1,751.9 1254.7,751.9 1254.7,752.2 1258.4,752.2 1258.4,752.3 1262.5,752.3 1262.5,753.7 1266.2,753.7 1266.2,753.4 1270.5,753.4 1270.5,755.2 1273.7,755.2 1273.7,758.2 1276.4,758.2 1276.4,761.1 1278.6,761.1 1278.6,761.7 1283.5,761.7 1283.5,768.4 1288.2,768.4 1288.2,770.3 1290.6,770.3 1290.6,774.4 1294.5,774.4 1294.5,775.0 1298.4,775.0 1298.4,777.6 1301.6,777.6 1301.6,778.1 1306.2,778.1 1306.2,785.1 1309.0,785.1 1309.0,785.5 1311.2,785.5 1311.2,784.1 1315.7,784.1 1315.7,782.8 1318.7,782.8 1318.7,782.4 1323.3,782.4 1323.3,778.7 1325.4,778.7 1325.4,784.3 1328.0,784.3 1328.0,780.3 1330.6,780.3 1330.6,782.2 1335.3,782.2 1335.3,786.5 1339.4,786.5 1339.4,796.2 1343.0,796.2 1343.0,799.0 1346.6,799.0 1346.6,798.9 1350.6,798.9 1350.6,802.5 1354.2,802.5 1354.2,802.8 1359.1,802.8 1359.1,807.6 1363.3,807.6 1363.3,805.4 1366.6,805.4 1366.6,808.7 1370.9,808.7 1370.9,804.4 1373.2,804.4 1373.2,804.0 1375.4,804.0 1375.4,808.6 1377.8,808.6 1377.8,810.8 1382.8,810.8 1382.8,805.4 1387.7,805.4 1387.7,808.9 1392.6,808.9 1392.6,809.1 1396.9,809.1 1396.9,808.4 1400.0,808.4 1400.0,813.4 1403.8,813.4 1403.8,816.4 1408.2,816.4 1408.2,820.0 1411.2,820.0 1411.2,817.6 1415.3,817.6 1415.3,826.0 1418.8,826.0 1418.8,827.4 1423.1,827.4 1423.1,836.1 1427.8,836.1 1427.8,837.4 1430.5,837.4 1430.5,837.7 1433.6,837.7 1433.6,840.2 1437.5,840.2 1437.5,846.4 1442.5,846.4 1442.5,844.4 1445.8,844.4 1445.8,846.7 1449.8,846.7 1449.8,851.3 1453.6,851.3 1453.6,851.6 1456.6,851.6 1456.6,854.1 1459.7,854.1 1459.7,855.0 1462.2,855.0 1462.2,856.6 1465.3,856.6 1465.3,858.8 1470.2,858.8 1470.2,862.4 1474.2,862.4 1474.2,863.0 1478.2,863.0 1478.2,866.2 1480.6,866.2 1480.6,871.5 1485.7,871.5 1485.7,872.4 1489.0,872.4 1489.0,874.3 1491.8,874.3 1491.8,879.6 1495.8,879.6 1495.8,882.4 1500.8,882.4 1500.8,885.8 1504.0,885.8 1504.0,890.3 1508.2,890.3 1508.2,891.7 1511.9,891.7 1511.9,892.4 1515.9,892.4 1515.9,886.2 1519.1,886.2 1519.1,893.8 1523.5,893.8 1523.5,894.1 1528.3,894.1 1528.3,896.7 1531.7,896.7 1531.7,892.9 1535.0,892.9 1535.0,898.6 1537.9,898.6 1537.9,902.5 1542.5,902.5 1542.5,908.8 1546.4,908.8 1546.4,910.6 1549.2,910.6 1549.2,910.9 1554.0,910.9 1554.0,915.9 1556.7,915.9 1556.7,917.7 1560.4,917.7 1560.4,921.4 1564.1,921.4 1564.1,919.9 1568.0,919.9 1568.0,926.3 1572.6,926.3 1572.6,928.0 1574.7,928.0 1574.7,927.5 1578.0,927.5 1578.0,933.0 1581.6,933.0 1581.6,935.4 1586.4,935.4 1586.4,937.1 1591.0,937.1 1591.0,941.8 1593.1,941.8 1593.1,944.9 1597.1,944.9 1597.1,945.9 1600.4,945.9 1600.4,947.7 1604.0,947.7 1604.0,949.1 1608.7,949.1 1608.7,947.5 1611.6,947.5 1611.6,954.6 1613.8,954.6 1613.8,950.9 1617.7,950.9 1617.7,953.2 1621.4,953.2 1621.4,960.6 1626.0,960.6 1626.0,960.7 1629.3,960.7 1629.3,963.2 1633.1,963.2 1633.1,967.3 1637.6,967.3 1637.6,969.2 1642.0,969.2 1642.0,973.3 1644.1,973.3 1644.1,974.4 1646.4,974.4 1646.4,977.3 1649.5,977.3 1649.5,983.0 1653.1,983.0 1653.1,984.8 1656.1,984.8 1656.1,982.3 1661.0,982.3 1661.0,989.5 1665.9,989.5 1665.9,988.7 1668.5,988.7 1668.5,990.8 1670.8,990.8 1670.8,996.3 1675.3,996.3 1675.3,997.9 1679.8,997.9 1679.8,997.6 1682.8,997.6 1682.8,1003.0 1687.5,1003.0 1687.5,998.3 1690.2,998.3 1690.2,1007.0 1693.7,1007.0 1693.7,1007.0 1697.3,1007.0 1697.3,1008.7 1701.7,1008.7 1701.7,1011.1 1706.3,1011.1 1706.3,1013.4 1708.9,1013.4 1708.9,1014.2 1711.4,1014.2 1711.4,1019.5 1714.0,1019.5 1714.0,1023.2 1719.0,1023.2 1719.0,1024.7 1722.4,1024.7 1722.4,1031.3 1727.4,1031.3 1727.4,1030.0 1731.4,1030.0 1731.4,1033.8 1734.0,1033.8 1734.0,1035.2 1736.5,1035.2 1736.5,1041.5 1740.1,1041.5 1740.1,1043.6 1742.4,1043.6 1742.4,1043.1 1746.5,1043.1 1746.5,1045.5 1751.6,1045.5 1751.6,1046.4 1754.0,1046.4 1754.0,1051.7 1756.8,1051.7 1756.8,1048.8 1759.1,1048.8 1759.1,1056.1 1764.1,1056.1 1764.1,1053.9 1767.4,1053.9 1767.4,1057.2 1769.8,1057.2 1769.8,1055.1 1774.5,1055.1 1774.5,1068.9 1776.6,1068.9 1776.6,1068.9 1779.5,1068.9 1779.5,1078.2 1784.4,1078.2 1784.4,1077.1 1786.7,1077.1 1786.7,1078.7 1791.2,1078.7 1791.2,1079.0 1796.1,1079.0 1796.1,1084.7 1799.0,1084.7 1799.0,1080.7 1803.2,1080.7 1803.2,1086.0 1805.8,1086.0 1805.8,1088.4 1810.5,1088.4 1810.5,1095.3 1813.8,1095.3 1813.8,1097.4 1818.9,1097.4 1818.9,1118.9 1823.1,1118.9 1823.1,1142.0 1826.0,1142.0 1826.0,1164.4 1823.1,1164.4 1823.1,1164.9 1820.4,1164.9 1820.4,1164.1 1817.2,1164.1 1817.2,1161.1 1812.9,1161.1 1812.9,1165.6 1808.4,1165.6 1808.4,1165.5 1805.7,1165.5 1805.7,1165.4 1802.1,1165.4 1802.1,1162.5 1799.0,1162.5 1799.0,1162.3 1794.4,1162.3 1794.4,1163.4 1791.9,1163.4 1791.9,1160.6 1787.7,1160.6 1787.7,1158.1 1784.4,1158.1 1784.4,1159.2 1781.1,1159.2 1781.1,1162.6 1777.0,1162.6 1777.0,1159.1 1774.4,1159.1 1774.4,1159.8 1772.1,1159.8 1772.1,1157.3 1769.4,1157.3 1769.4,1160.8 1767.0,1160.8 1767.0,1158.8 1763.6,1158.8 1763.6,1157.8 1760.7,1157.8 1760.7,1159.7 1758.3,1159.7 1758.3,1158.4 1756.1,1158.4 1756.1,1159.6 1753.5,1159.6 1753.5,1152.9 1749.5,1152.9 1749.5,1156.9 1744.7,1156.9 1744.7,1151.2 1742.5,1151.2 1742.5,1149.3 1739.8,1149.3 1739.8,1153.3 1737.0,1153.3 1737.0,1151.0 1732.7,1151.0 1732.7,1137.9 1727.7,1137.9 1727.7,1135.8 1724.4,1135.8 1724.4,1130.6 1719.9,1130.6 1719.9,1124.3 1717.8,1124.3 1717.8,1121.0 1713.7,1121.0 1713.7,1119.3 1711.0,1119.3 1711.0,1116.8 1707.6,1116.8 1707.6,1116.6 1702.6,1116.6 1702.6,1110.7 1699.4,1110.7 1699.4,1109.7 1696.8,1109.7 1696.8,1111.9 1693.8,1111.9 1693.8,1108.5 1691.6,1108.5 1691.6,1103.1 1686.6,1103.1 1686.6,1104.6 1682.0,1104.6 1682.0,1101.9 1678.9,1101.9 1678.9,1094.9 1673.9,1094.9 1673.9,1091.8 1669.7,1091.8 1669.7,1091.3 1665.9,1091.3 1665.9,1088.1 1661.8,1088.1 1661.8,1082.9 1659.4,1082.9 1659.4,1079.4 1656.1,1079.4 1656.1,1078.3 1653.2,1078.3 1653.2,1078.9 1650.4,1078.9 1650.4,1078.0 1646.0,1078.0 1646.0,1075.9 1641.5,1075.9 1641.5,1071.8 1638.8,1071.8 1638.8,1073.2 1635.9,1073.2 1635.9,1071.2 1633.1,1071.2 1633.1,1065.2 1628.8,1065.2 1628.8,1064.5 1626.0,1064.5 1626.0,1061.7 1622.4,1061.7 1622.4,1058.9 1618.6,1058.9 1618.6,1060.9 1615.0,1060.9 1615.0,1053.7 1612.4,1053.7 1612.4,1054.7 1609.9,1054.7 1609.9,1051.7 1605.2,1051.7 1605.2,1048.2 1603.0,1048.2 1603.0,1045.7 1600.5,1045.7 1600.5,1039.2 1596.2,1039.2 1596.2,1038.8 1593.4,1038.8 1593.4,1036.3 1589.3,1036.3 1589.3,1034.9 1586.4,1034.9 1586.4,1027.4 1582.1,1027.4 1582.1,1024.6 1577.2,1024.6 1577.2,1025.6 1574.5,1025.6 1574.5,1018.5 1571.0,1018.5 1571.0,1022.6 1567.7,1022.6 1567.7,1015.7 1563.7,1015.7 1563.7,1012.2 1560.1,1012.2 1560.1,1016.0 1556.7,1016.0 1556.7,1014.6 1554.4,1014.6 1554.4,1006.8 1549.7,1006.8 1549.7,1007.6 1545.4,1007.6 1545.4,1006.6 1543.3,1006.6 1543.3,1004.1 1539.0,1004.1 1539.0,1001.3 1536.8,1001.3 1536.8,999.8 1532.4,999.8 1532.4,1000.7 1528.9,1000.7 1528.9,995.9 1526.8,995.9 1526.8,994.9 1523.4,994.9 1523.4,990.3 1519.6,990.3 1519.6,992.2 1515.3,992.2 1515.3,988.5 1511.6,988.5 1511.6,986.1 1507.9,986.1 1507.9,984.0 1504.6,984.0 1504.6,977.7 1501.3,977.7 1501.3,978.9 1499.2,978.9 1499.2,975.1 1494.6,975.1 1494.6,970.7 1490.2,970.7 1490.2,969.1 1485.3,969.1 1485.3,963.8 1481.0,963.8 1481.0,963.0 1476.7,963.0 1476.7,956.0 1471.9,956.0 1471.9,955.7 1468.2,955.7 1468.2,953.4 1464.9,953.4 1464.9,956.3 1460.4,956.3 1460.4,949.7 1455.7,949.7 1455.7,950.6 1452.6,950.6 1452.6,952.1 1449.3,952.1 1449.3,951.4 1446.9,951.4 1446.9,946.6 1443.9,946.6 1443.9,950.6 1441.1,950.6 1441.1,950.3 1438.6,950.3 1438.6,944.3 1434.4,944.3 1434.4,946.6 1430.6,946.6 1430.6,938.5 1427.8,938.5 1427.8,935.4 1423.6,935.4 1423.6,933.2 1420.0,933.2 1420.0,930.1 1417.8,930.1 1417.8,929.6 1413.3,929.6 1413.3,926.1 1409.3,926.1 1409.3,923.0 1406.5,923.0 1406.5,922.5 1404.4,922.5 1404.4,917.6 1401.2,917.6 1401.2,915.3 1398.8,915.3 1398.8,919.8 1396.1,919.8 1396.1,918.4 1393.5,918.4 1393.5,913.0 1390.4,913.0 1390.4,911.4 1388.2,911.4 1388.2,912.6 1384.9,912.6 1384.9,914.0 1380.4,914.0 1380.4,908.5 1376.9,908.5 1376.9,906.5 1372.8,906.5 1372.8,906.3 1369.7,906.3 1369.7,902.4 1364.8,902.4 1364.8,900.8 1361.2,900.8 1361.2,897.0 1356.5,897.0 1356.5,895.3 1352.6,895.3 1352.6,891.2 1348.8,891.2 1348.8,891.4 1345.9,891.4 1345.9,894.7 1341.7,894.7 1341.7,895.3 1337.1,895.3 1337.1,895.6 1334.8,895.6 1334.8,895.3 1331.4,895.3 1331.4,888.8 1328.7,888.8 1328.7,891.8 1325.3,891.8 1325.3,888.4 1322.5,888.4 1322.5,886.4 1319.7,886.4 1319.7,885.0 1317.5,885.0 1317.5,885.9 1315.0,885.9 1315.0,878.1 1310.0,878.1 1310.0,879.6 1305.7,879.6 1305.7,878.8 1302.1,878.8 1302.1,877.5 1299.1,877.5 1299.1,870.8 1296.5,870.8 1296.5,868.8 1292.7,868.8 1292.7,870.0 1289.5,870.0 1289.5,868.5 1284.7,868.5 1284.7,864.5 1281.2,864.5 1281.2,867.8 1277.9,867.8 1277.9,865.3 1275.1,865.3 1275.1,860.4 1272.3,860.4 1272.3,856.6 1268.9,856.6 1268.9,856.6 1265.4,856.6 1265.4,855.4 1263.0,855.4 1263.0,854.1 1258.8,854.1 1258.8,855.4 1255.4,855.4 1255.4,856.9 1250.7,856.9 1250.7,849.6 1246.5,849.6 1246.5,848.4 1244.2,848.4 1244.2,853.9 1241.2,853.9 1241.2,851.7 1237.5,851.7 1237.5,843.7 1232.8,843.7 1232.8,844.0 1229.0,844.0 1229.0,843.2 1225.3,843.2 1225.3,838.9 1221.1,838.9 1221.1,838.7 1218.0,838.7 1218.0,835.6 1215.5,835.6 1215.5,833.4 1213.4,833.4 1213.4,834.4 1208.7,834.4 1208.7,835.0 1206.2,835.0 1206.2,828.7 1201.2,828.7 1201.2,830.2 1198.0,830.2 1198.0,826.5 1194.8,826.5 1194.8,826.6 1190.2,826.6 1190.2,830.0 1187.8,830.0 1187.8,825.3 1184.7,825.3 1184.7,825.8 1182.1,825.8 1182.1,821.6 1178.2,821.6 1178.2,821.1 1175.0,821.1 1175.0,822.0 1172.3,822.0 1172.3,820.4 1169.2,820.4 1169.2,819.3 1164.5,819.3 1164.5,818.0 1160.2,818.0 1160.2,818.7 1158.1,818.7 1158.1,819.0 1154.6,819.0 1154.6,819.3 1151.0,819.3 1151.0,810.7 1146.4,810.7 1146.4,812.1 1144.2,812.1 1144.2,809.4 1141.2,809.4 1141.2,813.1 1139.2,813.1 1139.2,807.3 1135.8,807.3 1135.8,806.9 1132.0,806.9 1132.0,802.0 1129.3,802.0 1129.3,805.3 1126.8,805.3 1126.8,802.9 1122.5,802.9 1122.5,804.6 1118.7,804.6 1118.7,802.0 1114.4,802.0 1114.4,807.2 1112.0,807.2 1112.0,803.1 1107.3,803.1 1107.3,806.1 1102.6,806.1 1102.6,801.4 1100.0,801.4 1100.0,801.6 1095.5,801.6 1095.5,792.5 1090.6,792.5 1090.6,791.0 1085.7,791.0 1085.7,785.6 1082.5,785.6 1082.5,787.1 1079.7,787.1 1079.7,787.5 1076.5,787.5 1076.5,790.9 1073.7,790.9 1073.7,790.2 1071.1,790.2 1071.1,794.3 1068.6,794.3 1068.6,794.8 1064.5,794.8 1064.5,795.9 1059.9,795.9 1059.9,791.0 1056.6,791.0 1056.6,790.4 1052.8,790.4 1052.8,789.1 1048.2,789.1 1048.2,789.2 1043.2,789.2 1043.2,787.9 1038.7,787.9 1038.7,787.5 1036.2,787.5 1036.2,781.0 1032.3,781.0 1032.3,783.1 1029.4,783.1 1029.4,783.3 1027.0,783.3 1027.0,780.7 1024.5,780.7 1024.5,779.7 1019.8,779.7 1019.8,787.2 1017.0,787.2" fill="#e95ba8" />
<polygon points="1059.0,690.0 1060.0,669.0 1065.0,669.0 1066.0,692.0" fill="#e95ba8" />
</g>
<g id="labels">
<text transform="translate(371,246.0) scale(0.975,1)" font-size="82" text-anchor="end">8.0</text>
<text transform="translate(371,483.2) scale(0.975,1)" font-size="82" text-anchor="end">6.0</text>
<text transform="translate(371,719.7) scale(0.975,1)" font-size="82" text-anchor="end">4.0</text>
<text transform="translate(371,956.2) scale(0.975,1)" font-size="82" text-anchor="end">2.0</text>
<text transform="translate(371,1192.7) scale(0.975,1)" font-size="82" text-anchor="end">0.0</text>
<text transform="translate(566,1277.5) scale(0.975,1)" font-size="82" text-anchor="middle">-40</text>
<text transform="translate(883.5,1277.5) scale(0.975,1)" font-size="82" text-anchor="middle">-30</text>
<text transform="translate(1199.5,1277.5) scale(0.975,1)" font-size="82" text-anchor="middle">-20</text>
<text transform="translate(1517,1277.5) scale(0.975,1)" font-size="82" text-anchor="middle">-10</text>
<text transform="translate(1833,1277.5) scale(0.975,1)" font-size="82" text-anchor="middle">0</text>
<text transform="translate(0,91.2) scale(0.934,1)" font-size="71"><tspan x="953.7">3.27 </tspan><tspan x="1109.9">nM </tspan><tspan x="1230.8">LPG</tspan></text>
<text transform="translate(0,185.6) scale(0.934,1)" font-size="71"><tspan x="953.7">6.54 </tspan><tspan x="1109.9">nM </tspan><tspan x="1230.8">LPG</tspan></text>
<text transform="translate(0,279.6) scale(0.934,1)" font-size="71"><tspan x="953.7">13.1 </tspan><tspan x="1109.9">nM </tspan><tspan x="1230.8">LPG</tspan></text>
<text transform="translate(0,374.2) scale(0.934,1)" font-size="71"><tspan x="953.7">65.4 </tspan><tspan x="1109.9">nM </tspan><tspan x="1230.8">LPG</tspan></text>
<text transform="translate(0,468.2) scale(0.934,1)" font-size="71"><tspan x="953.7">654 </tspan><tspan x="1109.9">nM </tspan><tspan x="1230.8">LPG</tspan></text>
<text x="684" y="1140.5" font-size="78" textLength="634" lengthAdjust="spacingAndGlyphs">viscoelastic region</text>
<text x="826" y="1455" font-size="78" textLength="592" lengthAdjust="spacingAndGlyphs">ΔFrequency (Hz)</text>
<text transform="translate(116.3,1058.5) rotate(-90) scale(0.924,1)" font-size="84">Dissipation (ΔD)x10<tspan font-size="64" dy="-36">-6</tspan></text>
<text transform="translate(1780,366) rotate(76)" font-size="76.8">viscosity-density</text>
<text transform="translate(1714,570) rotate(76)" font-size="77.5">effect</text>
</g>
<g id="dotted" fill="#c20f19">
<ellipse cx="566.5" cy="1166.5" rx="9.7" ry="9.7"/>
<ellipse cx="569.8" cy="1166.5" rx="9.7" ry="9.7"/>
<ellipse cx="573.1" cy="1166.5" rx="9.7" ry="9.7"/>
<ellipse cx="576.4" cy="1166.5" rx="9.7" ry="9.7"/>
<ellipse cx="579.7" cy="1166.5" rx="9.7" ry="9.7"/>
<ellipse cx="583.0" cy="1166.5" rx="9.7" ry="9.7"/>
<ellipse cx="586.3" cy="1166.5" rx="9.7" ry="9.7"/>
<ellipse cx="589.6" cy="1166.5" rx="9.7" ry="9.7"/>
<ellipse cx="592.9" cy="1166.5" rx="9.7" ry="9.7"/>
<ellipse cx="596.2" cy="1166.5" rx="9.7" ry="9.7"/>
<ellipse cx="599.5" cy="1166.5" rx="9.7" ry="9.7"/>
<ellipse cx="602.8" cy="1166.5" rx="9.7" ry="9.7"/>
<ellipse cx="606.1" cy="1166.5" rx="9.7" ry="9.7"/>
<ellipse cx="609.4" cy="1166.5" rx="9.7" ry="9.7"/>
<ellipse cx="612.7" cy="1166.5" rx="9.7" ry="9.7"/>
<ellipse cx="616.0" cy="1166.5" rx="9.7" ry="9.7"/>
<ellipse cx="619.3" cy="1166.5" rx="9.7" ry="9.7"/>
<ellipse cx="622.6" cy="1166.5" rx="9.7" ry="9.7"/>
<ellipse cx="625.9" cy="1166.5" rx="9.7" ry="9.7"/>
<ellipse cx="629.2" cy="1166.5" rx="9.7" ry="9.7"/>
<ellipse cx="632.5" cy="1166.5" rx="9.7" ry="9.7"/>
<ellipse cx="635.8" cy="1166.5" rx="9.7" ry="9.7"/>
<ellipse cx="639.1" cy="1166.5" rx="9.7" ry="9.7"/>
<ellipse cx="642.4" cy="1166.5" rx="9.7" ry="9.7"/>
<ellipse cx="645.7" cy="1166.5" rx="9.7" ry="9.7"/>
<ellipse cx="649.0" cy="1166.5" rx="9.7" ry="9.7"/>
<ellipse cx="652.3" cy="1166.5" rx="9.7" ry="9.7"/>
<ellipse cx="655.6" cy="1166.5" rx="9.7" ry="9.7"/>
<ellipse cx="658.9" cy="1166.5" rx="9.7" ry="9.7"/>
<ellipse cx="662.2" cy="1166.5" rx="9.7" ry="9.7"/>
<ellipse cx="665.5" cy="1166.5" rx="9.7" ry="9.7"/>
<ellipse cx="668.8" cy="1166.5" rx="9.7" ry="9.7"/>
<ellipse cx="672.1" cy="1166.5" rx="9.7" ry="9.7"/>
<ellipse cx="675.4" cy="1166.5" rx="9.7" ry="9.7"/>
<ellipse cx="678.7" cy="1166.5" rx="9.7" ry="9.7"/>
<ellipse cx="682.0" cy="1166.5" rx="9.7" ry="9.7"/>
<ellipse cx="685.3" cy="1166.5" rx="9.7" ry="9.7"/>
<ellipse cx="688.6" cy="1166.5" rx="9.7" ry="9.7"/>
<ellipse cx="691.9" cy="1166.5" rx="9.7" ry="9.7"/>
<ellipse cx="695.2" cy="1166.5" rx="9.7" ry="9.7"/>
<ellipse cx="705.1" cy="1166.5" rx="9.7" ry="9.7"/>
<ellipse cx="708.4" cy="1166.5" rx="9.7" ry="9.7"/>
<ellipse cx="711.7" cy="1166.5" rx="9.7" ry="9.7"/>
<ellipse cx="715.0" cy="1166.5" rx="9.7" ry="9.7"/>
<ellipse cx="718.3" cy="1166.5" rx="9.7" ry="9.7"/>
<ellipse cx="721.6" cy="1166.5" rx="9.7" ry="9.7"/>
<ellipse cx="724.9" cy="1166.5" rx="9.7" ry="9.7"/>
<ellipse cx="728.2" cy="1166.5" rx="9.7" ry="9.7"/>
<ellipse cx="731.5" cy="1166.5" rx="9.7" ry="9.7"/>
<ellipse cx="734.8" cy="1166.5" rx="9.7" ry="9.7"/>
<ellipse cx="738.1" cy="1166.5" rx="9.7" ry="9.7"/>
<ellipse cx="741.4" cy="1166.5" rx="9.7" ry="9.7"/>
<ellipse cx="744.7" cy="1166.5" rx="9.7" ry="9.7"/>
<ellipse cx="748.0" cy="1166.5" rx="9.7" ry="9.7"/>
<ellipse cx="751.3" cy="1166.5" rx="9.7" ry="9.7"/>
<ellipse cx="754.6" cy="1166.5" rx="9.7" ry="9.7"/>
<ellipse cx="757.9" cy="1166.5" rx="9.7" ry="9.7"/>
<ellipse cx="761.2" cy="1166.5" rx="9.7" ry="9.7"/>
<ellipse cx="764.5" cy="1166.5" rx="9.7" ry="9.7"/>
<ellipse cx="767.8" cy="1166.5" rx="9.7" ry="9.7"/>
<ellipse cx="771.1" cy="1166.5" rx="9.7" ry="9.7"/>
<ellipse cx="774.4" cy="1166.5" rx="9.7" ry="9.7"/>
<ellipse cx="777.7" cy="1166.5" rx="9.7" ry="9.7"/>
<ellipse cx="781.0" cy="1166.5" rx="9.7" ry="9.7"/>
<ellipse cx="784.3" cy="1166.5" rx="9.7" ry="9.7"/>
<ellipse cx="787.6" cy="1166.5" rx="9.7" ry="9.7"/>
<ellipse cx="790.9" cy="1166.5" rx="9.7" ry="9.7"/>
<ellipse cx="800.8" cy="1166.5" rx="9.7" ry="9.7"/>
<ellipse cx="804.1" cy="1166.5" rx="9.7" ry="9.7"/>
<ellipse cx="807.4" cy="1166.5" rx="9.7" ry="9.7"/>
<ellipse cx="810.7" cy="1166.5" rx="9.7" ry="9.7"/>
<ellipse cx="814.0" cy="1166.5" rx="9.7" ry="9.7"/>
<ellipse cx="817.3" cy="1166.5" rx="9.7" ry="9.7"/>
<ellipse cx="820.6" cy="1166.5" rx="9.7" ry="9.7"/>
<ellipse cx="823.9" cy="1166.5" rx="9.7" ry="9.7"/>
<ellipse cx="827.2" cy="1166.5" rx="9.7" ry="9.7"/>
<ellipse cx="830.5" cy="1166.5" rx="9.7" ry="9.7"/>
<ellipse cx="833.8" cy="1166.5" rx="9.7" ry="9.7"/>
<ellipse cx="837.1" cy="1166.5" rx="9.7" ry="9.7"/>
<ellipse cx="840.4" cy="1166.5" rx="9.7" ry="9.7"/>
<ellipse cx="853.6" cy="1166.5" rx="9.7" ry="9.7"/>
<ellipse cx="856.9" cy="1166.5" rx="9.7" ry="9.7"/>
<ellipse cx="860.2" cy="1166.5" rx="9.7" ry="9.7"/>
<ellipse cx="863.5" cy="1166.5" rx="9.7" ry="9.7"/>
<ellipse cx="866.8" cy="1166.5" rx="9.7" ry="9.7"/>
<ellipse cx="870.1" cy="1166.5" rx="9.7" ry="9.7"/>
<ellipse cx="873.4" cy="1166.5" rx="9.7" ry="9.7"/>
<ellipse cx="876.7" cy="1166.5" rx="9.7" ry="9.7"/>
<ellipse cx="880.0" cy="1166.5" rx="9.7" ry="9.7"/>
<ellipse cx="883.3" cy="1166.5" rx="9.7" ry="9.7"/>
<ellipse cx="886.6" cy="1166.5" rx="9.7" ry="9.7"/>
<ellipse cx="889.9" cy="1166.5" rx="9.7" ry="9.7"/>
<ellipse cx="893.2" cy="1166.5" rx="9.7" ry="9.7"/>
<ellipse cx="896.5" cy="1166.5" rx="9.7" ry="9.7"/>
<ellipse cx="899.8" cy="1166.5" rx="9.7" ry="9.7"/>
<ellipse cx="903.1" cy="1166.5" rx="9.7" ry="9.7"/>
<ellipse cx="906.4" cy="1166.5" rx="9.7" ry="9.7"/>
<ellipse cx="909.7" cy="1166.5" rx="9.7" ry="9.7"/>
<ellipse cx="913.0" cy="1166.5" rx="9.7" ry="9.7"/>
<ellipse cx="916.3" cy="1166.5" rx="9.7" ry="9.7"/>
<ellipse cx="919.6" cy="1166.5" rx="9.7" ry="9.7"/>
<ellipse cx="922.9" cy="1166.5" rx="9.7" ry="9.7"/>
<ellipse cx="926.2" cy="1166.5" rx="9.7" ry="9.7"/>
<ellipse cx="929.5" cy="1166.5" rx="9.7" ry="9.7"/>
<ellipse cx="932.8" cy="1166.5" rx="9.7" ry="9.7"/>
<ellipse cx="936.1" cy="1166.5" rx="9.7" ry="9.7"/>
<ellipse cx="939.4" cy="1166.5" rx="9.7" ry="9.7"/>
<ellipse cx="942.7" cy="1166.5" rx="9.7" ry="9.7"/>
<ellipse cx="946.0" cy="1166.5" rx="9.7" ry="9.7"/>
<ellipse cx="949.3" cy="1166.5" rx="9.7" ry="9.7"/>
<ellipse cx="952.6" cy="1166.5" rx="9.7" ry="9.7"/>
<ellipse cx="955.9" cy="1166.5" rx="9.7" ry="9.7"/>
<ellipse cx="959.2" cy="1166.5" rx="9.7" ry="9.7"/>
<ellipse cx="962.5" cy="1166.5" rx="9.7" ry="9.7"/>
<ellipse cx="965.8" cy="1166.5" rx="9.7" ry="9.7"/>
<ellipse cx="988.9" cy="1166.5" rx="9.7" ry="9.7"/>
<ellipse cx="992.2" cy="1166.5" rx="9.7" ry="9.7"/>
<ellipse cx="995.5" cy="1166.5" rx="9.7" ry="9.7"/>
<ellipse cx="998.8" cy="1166.5" rx="9.7" ry="9.7"/>
<ellipse cx="1002.1" cy="1166.5" rx="9.7" ry="9.7"/>
<ellipse cx="1005.4" cy="1166.5" rx="9.7" ry="9.7"/>
<ellipse cx="1008.7" cy="1166.5" rx="9.7" ry="9.7"/>
<ellipse cx="1012.0" cy="1166.5" rx="9.7" ry="9.7"/>
<ellipse cx="1015.3" cy="1166.5" rx="9.7" ry="9.7"/>
<ellipse cx="1025.2" cy="1166.5" rx="9.7" ry="9.7"/>
<ellipse cx="1028.5" cy="1166.5" rx="9.7" ry="9.7"/>
<ellipse cx="1031.8" cy="1166.5" rx="9.7" ry="9.7"/>
<ellipse cx="1035.1" cy="1166.5" rx="9.7" ry="9.7"/>
<ellipse cx="1038.4" cy="1166.5" rx="9.7" ry="9.7"/>
<ellipse cx="1041.7" cy="1166.5" rx="9.7" ry="9.7"/>
<ellipse cx="1045.0" cy="1166.5" rx="9.7" ry="9.7"/>
<ellipse cx="1048.3" cy="1166.5" rx="9.7" ry="9.7"/>
<ellipse cx="1051.6" cy="1166.5" rx="9.7" ry="9.7"/>
<ellipse cx="1054.9" cy="1166.5" rx="9.7" ry="9.7"/>
<ellipse cx="1058.2" cy="1166.5" rx="9.7" ry="9.7"/>
<ellipse cx="1071.4" cy="1166.5" rx="9.7" ry="9.7"/>
<ellipse cx="1074.7" cy="1166.5" rx="9.7" ry="9.7"/>
<ellipse cx="1078.0" cy="1166.5" rx="9.7" ry="9.7"/>
<ellipse cx="1081.3" cy="1166.5" rx="9.7" ry="9.7"/>
<ellipse cx="1124.2" cy="1166.5" rx="9.7" ry="9.7"/>
<ellipse cx="1127.5" cy="1166.5" rx="9.7" ry="9.7"/>
<ellipse cx="1130.8" cy="1166.5" rx="9.7" ry="9.7"/>
<ellipse cx="1134.1" cy="1166.5" rx="9.7" ry="9.7"/>
<ellipse cx="1137.4" cy="1166.5" rx="9.7" ry="9.7"/>
<ellipse cx="1140.7" cy="1166.5" rx="9.7" ry="9.7"/>
<ellipse cx="1153.9" cy="1166.5" rx="9.7" ry="9.7"/>
<ellipse cx="1157.2" cy="1166.5" rx="9.7" ry="9.7"/>
<ellipse cx="1160.5" cy="1166.5" rx="9.7" ry="9.7"/>
<ellipse cx="1163.8" cy="1166.5" rx="9.7" ry="9.7"/>
<ellipse cx="1167.1" cy="1166.5" rx="9.7" ry="9.7"/>
<ellipse cx="1170.4" cy="1166.5" rx="9.7" ry="9.7"/>
<ellipse cx="1173.7" cy="1166.5" rx="9.7" ry="9.7"/>
<ellipse cx="1177.0" cy="1166.5" rx="9.7" ry="9.7"/>
<ellipse cx="1180.3" cy="1166.5" rx="9.7" ry="9.7"/>
<ellipse cx="1183.6" cy="1166.5" rx="9.7" ry="9.7"/>
<ellipse cx="1196.8" cy="1166.5" rx="9.7" ry="9.7"/>
<ellipse cx="1200.1" cy="1166.5" rx="9.7" ry="9.7"/>
<ellipse cx="1203.4" cy="1166.5" rx="9.7" ry="9.7"/>
<ellipse cx="1206.7" cy="1166.5" rx="9.7" ry="9.7"/>
<ellipse cx="1210.0" cy="1166.5" rx="9.7" ry="9.7"/>
<ellipse cx="1213.3" cy="1166.5" rx="9.7" ry="9.7"/>
<ellipse cx="1216.6" cy="1166.5" rx="9.7" ry="9.7"/>
<ellipse cx="1219.9" cy="1166.5" rx="9.7" ry="9.7"/>
<ellipse cx="1223.2" cy="1166.5" rx="9.7" ry="9.7"/>
<ellipse cx="1226.5" cy="1166.5" rx="9.7" ry="9.7"/>
<ellipse cx="1229.8" cy="1166.5" rx="9.7" ry="9.7"/>
<ellipse cx="1239.7" cy="1166.5" rx="9.7" ry="9.7"/>
<ellipse cx="1243.0" cy="1166.5" rx="9.7" ry="9.7"/>
<ellipse cx="1246.3" cy="1166.5" rx="9.7" ry="9.7"/>
<ellipse cx="1249.6" cy="1166.5" rx="9.7" ry="9.7"/>
<ellipse cx="1252.9" cy="1166.5" rx="9.7" ry="9.7"/>
<ellipse cx="1256.2" cy="1166.5" rx="9.7" ry="9.7"/>
<ellipse cx="1259.5" cy="1166.5" rx="9.7" ry="9.7"/>
<ellipse cx="1262.8" cy="1166.5" rx="9.7" ry="9.7"/>
<ellipse cx="1266.1" cy="1166.5" rx="9.7" ry="9.7"/>
<ellipse cx="1269.4" cy="1166.5" rx="9.7" ry="9.7"/>
<ellipse cx="1272.7" cy="1166.5" rx="9.7" ry="9.7"/>
<ellipse cx="1276.0" cy="1166.5" rx="9.7" ry="9.7"/>
<ellipse cx="1289.2" cy="1166.5" rx="9.7" ry="9.7"/>
<ellipse cx="1292.5" cy="1166.5" rx="9.7" ry="9.7"/>
<ellipse cx="1295.8" cy="1166.5" rx="9.7" ry="9.7"/>
<ellipse cx="1299.1" cy="1166.5" rx="9.7" ry="9.7"/>
<ellipse cx="1302.4" cy="1166.5" rx="9.7" ry="9.7"/>
<ellipse cx="1305.7" cy="1166.5" rx="9.7" ry="9.7"/>
<ellipse cx="1309.0" cy="1166.5" rx="9.7" ry="9.7"/>
<ellipse cx="1312.3" cy="1166.5" rx="9.7" ry="9.7"/>
<ellipse cx="1315.6" cy="1166.5" rx="9.7" ry="9.7"/>
<ellipse cx="1318.9" cy="1166.5" rx="9.7" ry="9.7"/>
<ellipse cx="1322.2" cy="1166.5" rx="9.7" ry="9.7"/>
<ellipse cx="1325.5" cy="1166.5" rx="9.7" ry="9.7"/>
<ellipse cx="1328.8" cy="1166.5" rx="9.7" ry="9.7"/>
<ellipse cx="1342.0" cy="1166.5" rx="9.7" ry="9.7"/>
<ellipse cx="1345.3" cy="1166.5" rx="9.7" ry="9.7"/>
<ellipse cx="1348.6" cy="1166.5" rx="9.7" ry="9.7"/>
<ellipse cx="1351.9" cy="1166.5" rx="9.7" ry="9.7"/>
<ellipse cx="1355.2" cy="1166.5" rx="9.7" ry="9.7"/>
<ellipse cx="1358.5" cy="1166.5" rx="9.7" ry="9.7"/>
<ellipse cx="1361.8" cy="1166.5" rx="9.7" ry="9.7"/>
<ellipse cx="1365.1" cy="1166.5" rx="9.7" ry="9.7"/>
<ellipse cx="1368.4" cy="1166.5" rx="9.7" ry="9.7"/>
<ellipse cx="1381.6" cy="1166.5" rx="9.7" ry="9.7"/>
<ellipse cx="1384.9" cy="1166.5" rx="9.7" ry="9.7"/>
<ellipse cx="1388.2" cy="1166.5" rx="9.7" ry="9.7"/>
<ellipse cx="1391.5" cy="1166.5" rx="9.7" ry="9.7"/>
<ellipse cx="1394.8" cy="1166.5" rx="9.7" ry="9.7"/>
<ellipse cx="1398.1" cy="1166.5" rx="9.7" ry="9.7"/>
<ellipse cx="1401.4" cy="1166.5" rx="9.7" ry="9.7"/>
<ellipse cx="1404.7" cy="1166.5" rx="9.7" ry="9.7"/>
<ellipse cx="1408.0" cy="1166.5" rx="9.7" ry="9.7"/>
<ellipse cx="1431.1" cy="1166.5" rx="9.7" ry="9.7"/>
<ellipse cx="1434.4" cy="1166.5" rx="9.7" ry="9.7"/>
<ellipse cx="1437.7" cy="1166.5" rx="9.7" ry="9.7"/>
<ellipse cx="1441.0" cy="1166.5" rx="9.7" ry="9.7"/>
<ellipse cx="1444.3" cy="1166.5" rx="9.7" ry="9.7"/>
<ellipse cx="1447.6" cy="1166.5" rx="9.7" ry="9.7"/>
<ellipse cx="1450.9" cy="1166.5" rx="9.7" ry="9.7"/>
<ellipse cx="1454.2" cy="1166.5" rx="9.7" ry="9.7"/>
<ellipse cx="1457.5" cy="1166.5" rx="9.7" ry="9.7"/>
<ellipse cx="1460.8" cy="1166.5" rx="9.7" ry="9.7"/>
<ellipse cx="1474.0" cy="1166.5" rx="9.7" ry="9.7"/>
<ellipse cx="1477.3" cy="1166.5" rx="9.7" ry="9.7"/>
<ellipse cx="1480.6" cy="1166.5" rx="9.7" ry="9.7"/>
<ellipse cx="1483.9" cy="1166.5" rx="9.7" ry="9.7"/>
<ellipse cx="1487.2" cy="1166.5" rx="9.7" ry="9.7"/>
<ellipse cx="1490.5" cy="1166.5" rx="9.7" ry="9.7"/>
<ellipse cx="1503.7" cy="1166.5" rx="9.7" ry="9.7"/>
<ellipse cx="1507.0" cy="1166.5" rx="9.7" ry="9.7"/>
<ellipse cx="1510.3" cy="1166.5" rx="9.7" ry="9.7"/>
<ellipse cx="1513.6" cy="1166.5" rx="9.7" ry="9.7"/>
<ellipse cx="1516.9" cy="1166.5" rx="9.7" ry="9.7"/>
<ellipse cx="1520.2" cy="1166.5" rx="9.7" ry="9.7"/>
<ellipse cx="1523.5" cy="1166.5" rx="9.7" ry="9.7"/>
<ellipse cx="1536.7" cy="1166.5" rx="9.7" ry="9.7"/>
<ellipse cx="1540.0" cy="1166.5" rx="9.7" ry="9.7"/>
<ellipse cx="1543.3" cy="1166.5" rx="9.7" ry="9.7"/>
<ellipse cx="1546.6" cy="1166.5" rx="9.7" ry="9.7"/>
<ellipse cx="1549.9" cy="1166.5" rx="9.7" ry="9.7"/>
<ellipse cx="1553.2" cy="1166.5" rx="9.7" ry="9.7"/>
<ellipse cx="1556.5" cy="1166.5" rx="9.7" ry="9.7"/>
<ellipse cx="1559.8" cy="1166.5" rx="9.7" ry="9.7"/>
<ellipse cx="1596.1" cy="1166.5" rx="9.7" ry="9.7"/>
<ellipse cx="1599.4" cy="1166.5" rx="9.7" ry="9.7"/>
<ellipse cx="1612.6" cy="1166.5" rx="9.7" ry="9.7"/>
<ellipse cx="1615.9" cy="1166.5" rx="9.7" ry="9.7"/>
<ellipse cx="1619.2" cy="1166.5" rx="9.7" ry="9.7"/>
<ellipse cx="1622.5" cy="1166.5" rx="9.7" ry="9.7"/>
<ellipse cx="1652.2" cy="1166.5" rx="9.7" ry="9.7"/>
<ellipse cx="1655.5" cy="1166.5" rx="9.7" ry="9.7"/>
<ellipse cx="1658.8" cy="1166.5" rx="9.7" ry="9.7"/>
<ellipse cx="1672.0" cy="1166.5" rx="9.7" ry="9.7"/>
<ellipse cx="1675.3" cy="1166.5" rx="9.7" ry="9.7"/>
<ellipse cx="1678.6" cy="1166.5" rx="9.7" ry="9.7"/>
<ellipse cx="1681.9" cy="1166.5" rx="9.7" ry="9.7"/>
<ellipse cx="1685.2" cy="1166.5" rx="9.7" ry="9.7"/>
<ellipse cx="1688.5" cy="1166.5" rx="9.7" ry="9.7"/>
<ellipse cx="1691.8" cy="1166.5" rx="9.7" ry="9.7"/>
<ellipse cx="1695.1" cy="1166.5" rx="9.7" ry="9.7"/>
<ellipse cx="1705.0" cy="1166.5" rx="9.7" ry="9.7"/>
<ellipse cx="1708.3" cy="1166.5" rx="9.7" ry="9.7"/>
<ellipse cx="1711.6" cy="1166.5" rx="9.7" ry="9.7"/>
<ellipse cx="1714.9" cy="1166.5" rx="9.7" ry="9.7"/>
<ellipse cx="1718.2" cy="1166.5" rx="9.7" ry="9.7"/>
<ellipse cx="1721.5" cy="1166.5" rx="9.7" ry="9.7"/>
<ellipse cx="1724.8" cy="1166.5" rx="9.7" ry="9.7"/>
<ellipse cx="1728.1" cy="1166.5" rx="9.7" ry="9.7"/>
<ellipse cx="1731.4" cy="1166.5" rx="9.7" ry="9.7"/>
<ellipse cx="1734.7" cy="1166.5" rx="9.7" ry="9.7"/>
<ellipse cx="1738.0" cy="1166.5" rx="9.7" ry="9.7"/>
<ellipse cx="1741.3" cy="1166.5" rx="9.7" ry="9.7"/>
<ellipse cx="1744.6" cy="1166.5" rx="9.7" ry="9.7"/>
<ellipse cx="1747.9" cy="1166.5" rx="9.7" ry="9.7"/>
<ellipse cx="1751.2" cy="1166.5" rx="9.7" ry="9.7"/>
<ellipse cx="1754.5" cy="1166.5" rx="9.7" ry="9.7"/>
<ellipse cx="1757.8" cy="1166.5" rx="9.7" ry="9.7"/>
<ellipse cx="1761.1" cy="1166.5" rx="9.7" ry="9.7"/>
<ellipse cx="1764.4" cy="1166.5" rx="9.7" ry="9.7"/>
<ellipse cx="1767.7" cy="1166.5" rx="9.7" ry="9.7"/>
<ellipse cx="1771.0" cy="1166.5" rx="9.7" ry="9.7"/>
<ellipse cx="1774.3" cy="1166.5" rx="9.7" ry="9.7"/>
<ellipse cx="1777.6" cy="1166.5" rx="9.7" ry="9.7"/>
<ellipse cx="1780.9" cy="1166.5" rx="9.7" ry="9.7"/>
<ellipse cx="1784.2" cy="1166.5" rx="9.7" ry="9.7"/>
<ellipse cx="1787.5" cy="1166.5" rx="9.7" ry="9.7"/>
<ellipse cx="1790.8" cy="1166.5" rx="9.7" ry="9.7"/>
<ellipse cx="1794.1" cy="1166.5" rx="9.7" ry="9.7"/>
<ellipse cx="1797.4" cy="1166.5" rx="9.7" ry="9.7"/>
<ellipse cx="1800.7" cy="1166.5" rx="9.7" ry="9.7"/>
<ellipse cx="1804.0" cy="1166.5" rx="9.7" ry="9.7"/>
<ellipse cx="1807.3" cy="1166.5" rx="9.7" ry="9.7"/>
<ellipse cx="1810.6" cy="1166.5" rx="9.7" ry="9.7"/>
<ellipse cx="1813.9" cy="1166.5" rx="9.7" ry="9.7"/>
<ellipse cx="1817.2" cy="1166.5" rx="9.7" ry="9.7"/>
<ellipse cx="1820.5" cy="1166.5" rx="9.7" ry="9.7"/>
<ellipse cx="1823.8" cy="1166.5" rx="9.7" ry="9.7"/>
<ellipse cx="1827.1" cy="1166.5" rx="9.7" ry="9.7"/>
<ellipse cx="1830.4" cy="1166.5" rx="9.7" ry="9.7"/>
<ellipse cx="1593.3" cy="272.0" rx="9.6" ry="10.8"/>
<ellipse cx="1605.7" cy="318.0" rx="9.6" ry="10.8"/>
<ellipse cx="1616.5" cy="358.0" rx="9.6" ry="10.8"/>
<ellipse cx="1623.7" cy="384.7" rx="9.6" ry="10.8"/>
<ellipse cx="1648.4" cy="476.4" rx="9.6" ry="10.8"/>
<ellipse cx="1657.4" cy="509.8" rx="9.6" ry="10.8"/>
<ellipse cx="1678.7" cy="588.6" rx="9.6" ry="10.8"/>
<ellipse cx="1686.0" cy="616.0" rx="9.6" ry="10.8"/>
<ellipse cx="1692.6" cy="640.5" rx="9.6" ry="10.8"/>
<ellipse cx="1710.0" cy="704.7" rx="9.6" ry="10.8"/>
<ellipse cx="1722.9" cy="752.7" rx="9.6" ry="10.8"/>
<ellipse cx="1735.3" cy="798.8" rx="9.6" ry="10.8"/>
<ellipse cx="1741.2" cy="820.6" rx="9.6" ry="10.8"/>
<ellipse cx="1755.6" cy="874.0" rx="9.6" ry="10.8"/>
<ellipse cx="1759.5" cy="888.5" rx="9.6" ry="10.8"/>
<ellipse cx="1769.9" cy="927.0" rx="9.6" ry="10.8"/>
<ellipse cx="1776.4" cy="951.0" rx="9.6" ry="10.8"/>
<ellipse cx="1782.4" cy="973.5" rx="9.6" ry="10.8"/>
<ellipse cx="1787.0" cy="990.5" rx="9.6" ry="10.8"/>
<ellipse cx="1796.2" cy="1024.5" rx="9.6" ry="10.8"/>
<ellipse cx="1801.1" cy="1042.6" rx="9.6" ry="10.8"/>
<ellipse cx="1810.2" cy="1076.6" rx="9.6" ry="10.8"/>
<ellipse cx="1812.8" cy="1086.1" rx="9.6" ry="10.8"/>
<ellipse cx="1815.3" cy="1095.6" rx="9.6" ry="10.8"/>
<ellipse cx="1817.9" cy="1105.1" rx="9.6" ry="10.8"/>
<ellipse cx="1820.5" cy="1114.6" rx="9.6" ry="10.8"/>
<ellipse cx="1823.0" cy="1124.1" rx="9.6" ry="10.8"/>
<ellipse cx="1825.6" cy="1133.6" rx="9.6" ry="10.8"/>
<ellipse cx="1828.1" cy="1143.1" rx="9.6" ry="10.8"/>
<ellipse cx="1830.7" cy="1152.6" rx="9.6" ry="10.8"/>
<ellipse cx="1833.3" cy="1162.1" rx="9.6" ry="10.8"/>
<ellipse cx="1620.1" cy="371.4" rx="5.8" ry="6.6"/>
<ellipse cx="1689.3" cy="628.2" rx="5.8" ry="6.6"/>
<ellipse cx="1738.3" cy="809.7" rx="5.8" ry="6.6"/>
<ellipse cx="1757.6" cy="881.2" rx="5.8" ry="6.6"/>
<ellipse cx="1773.1" cy="939.0" rx="5.8" ry="6.6"/>
<ellipse cx="1779.4" cy="962.2" rx="5.8" ry="6.6"/>
<ellipse cx="1784.7" cy="982.0" rx="5.8" ry="6.6"/>
<ellipse cx="1798.6" cy="1033.5" rx="5.8" ry="6.6"/>
</g>
</g>
</svg>
</body>
</html>
